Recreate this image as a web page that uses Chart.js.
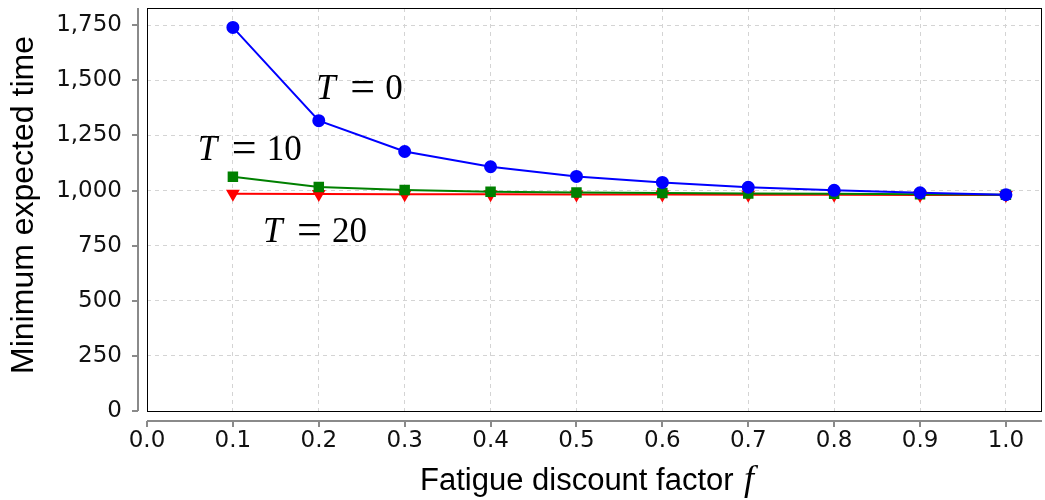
<!DOCTYPE html>
<html>
<head>
<meta charset="utf-8">
<script src="https://cdn.jsdelivr.net/npm/chart.js@4.4.1/dist/chart.umd.min.js"></script>
<style>
  html, body { margin: 0; padding: 0; background: #fff; overflow: hidden; }
  #wrap { width: 1050px; height: 500px; }
</style>
</head>
<body>
<div id="wrap"><canvas id="chart"></canvas></div>
<script>
// fatigue discount factor f
const factors = [0.1, 0.2, 0.3, 0.4, 0.5, 0.6, 0.7, 0.8, 0.9, 1.0];
// minimum expected time for each threshold T
const timeT0 = [1740, 1317, 1177, 1108, 1064, 1037, 1015, 1001, 990, 981];
const timeT10 = [1063, 1016, 1002, 995, 991, 989, 987, 985, 983, 981];
const timeT20 = [985, 984, 983, 983, 982, 982, 981, 981, 980, 980];
const seriesNames = ['0', '10', '20'];
// where the "T = ..." labels start, in data units (x, y of baseline)
const labelAnchors = [[0.197, 1414], [0.059, 1140], [0.135, 766]];

const toPoints = vals => vals.map((v, i) => ({ x: factors[i], y: v }));

const frame = {
    id: 'frame',
    beforeDatasetsDraw(chart) {
        const { ctx, chartArea: a, scales } = chart;
        ctx.save();
        // plot border
        ctx.strokeStyle = '#000';
        ctx.lineWidth = 1;
        ctx.strokeRect(a.left + 0.5, a.top + 0.5, a.right - a.left - 1, a.bottom - a.top);
        // offset axis lines
        ctx.strokeStyle = '#8a8a8a';
        ctx.lineWidth = 2;
        const ax = a.left - 9, ay = a.bottom + 10;
        ctx.beginPath();
        ctx.moveTo(ax, a.top); ctx.lineTo(ax, a.bottom);
        ctx.moveTo(a.left, ay); ctx.lineTo(a.right, ay);
        scales.y.ticks.forEach(t => {
            const py = Math.round(scales.y.getPixelForValue(t.value));
            ctx.moveTo(ax, py); ctx.lineTo(ax - 6, py);
        });
        scales.x.ticks.forEach(t => {
            const px = Math.round(scales.x.getPixelForValue(t.value));
            ctx.moveTo(px, ay); ctx.lineTo(px, ay + 6);
        });
        ctx.stroke();
        ctx.restore();
    },
    afterDraw(chart) {
        const { ctx, scales } = chart;
        ctx.save();
        ctx.fillStyle = '#000';
        ctx.textBaseline = 'alphabetic';
        // series labels
        labelAnchors.forEach((p, i) => {
            const x = scales.x.getPixelForValue(p[0]);
            const y = scales.y.getPixelForValue(p[1]);
            ctx.font = 'italic 35px "Liberation Serif"';
            ctx.fillText('T', x, y);
            ctx.font = '44px "Liberation Serif"';
            ctx.fillText('=', x + 34, y + 2);
            ctx.font = '35px "Liberation Serif"';
            ctx.fillText(seriesNames[i], x + 69, y);
        });
        // axis titles
        ctx.font = '31px "Liberation Sans"';
        ctx.fillText('Fatigue discount factor', 420, 490);
        ctx.font = 'italic 36px "Liberation Serif"';
        ctx.fillText('f', 744, 490);
        ctx.font = '32px "Liberation Sans"';
        ctx.translate(33, 205);
        ctx.rotate(-Math.PI / 2);
        ctx.textAlign = 'center';
        ctx.fillText('Minimum expected time', 0, 0);
        ctx.restore();
    }
};

const gridStyle = { color: '#d4d4d4', lineWidth: 1, drawTicks: false };
const tickFont = { family: '"DejaVu Sans"', size: 23 };

new Chart(document.getElementById('chart').getContext('2d'), {
    type: 'line',
    data: {
        datasets: [{
            label: 'T = 0',
            data: toPoints(timeT0),
            borderColor: '#0000ff',
            backgroundColor: '#0000ff',
            pointStyle: 'circle',
            pointRadius: 5.5,
            borderWidth: 2,
            tension: 0
        }, {
            label: 'T = 10',
            data: toPoints(timeT10),
            borderColor: '#008000',
            backgroundColor: '#008000',
            pointStyle: 'rect',
            pointRadius: 6,
            borderWidth: 2,
            tension: 0
        }, {
            label: 'T = 20',
            data: toPoints(timeT20),
            borderColor: '#ff0000',
            backgroundColor: '#ff0000',
            pointStyle: 'triangle',
            rotation: 180,
            pointRadius: 6,
            borderWidth: 2,
            tension: 0
        }]
    },
    options: {
        responsive: true,
        maintainAspectRatio: false,
        animation: false,
        layout: { padding: { top: 5, right: 0, left: 0, bottom: 0 } },
        plugins: { legend: { display: false }, tooltip: { enabled: false } },
        scales: {
            x: {
                type: 'linear',
                min: 0,
                max: 1.042,
                border: { display: false, dash: [4, 4] },
                grid: gridStyle,
                ticks: {
                    stepSize: 0.1,
                    includeBounds: false,
                    padding: 16,
                    color: '#111',
                    font: tickFont,
                    maxRotation: 0,
                    callback: v => v.toFixed(1)
                },
                afterFit: s => { s.height = 89; s.paddingLeft = 0; s.paddingRight = 0; }
            },
            y: {
                min: 0,
                max: 1828,
                border: { display: false, dash: [4, 4] },
                grid: gridStyle,
                ticks: {
                    stepSize: 250,
                    includeBounds: false,
                    padding: 25,
                    color: '#111',
                    font: tickFont,
                    callback: v => v.toLocaleString('en-US')
                },
                afterFit: s => { s.width = 147; s.paddingTop = 0; s.paddingBottom = 0; }
            }
        }
    },
    plugins: [frame]
});
</script>
</body>
</html>
